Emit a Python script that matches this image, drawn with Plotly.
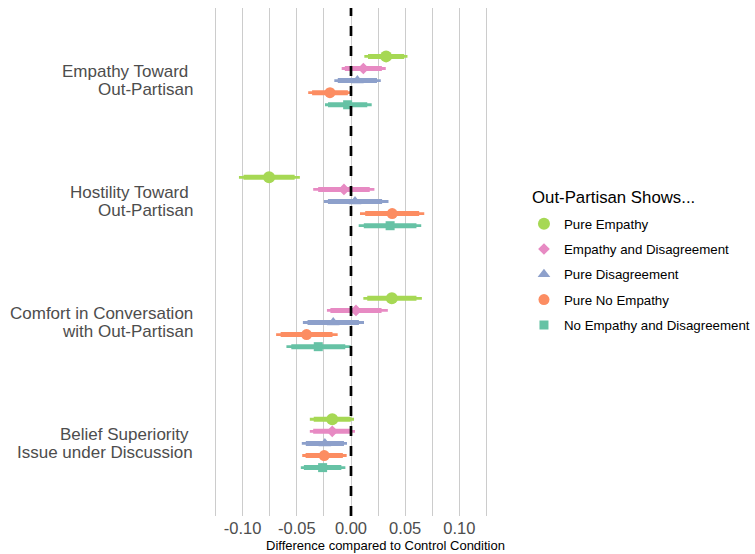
import plotly.graph_objects as go

# ---- data ----
OUTCOME_LINE1 = ["Empathy Toward\u00a0", "Hostility Toward\u00a0",
                 "Comfort in Conversation", "Belief Superiority\u00a0"]
OUTCOME_LINE2 = ["Out-Partisan", "Out-Partisan", "with Out-Partisan",
                 "Issue under Discussion"]
OUTCOME_POS = [4, 3, 2, 1]

LEGEND_TITLE = "Out-Partisan Shows..."
CONDITIONS = ["Pure Empathy", "Empathy and Disagreement", "Pure Disagreement",
              "Pure No Empathy", "No Empathy and Disagreement"]

pure_empathy_est = [0.0324, -0.0756, 0.0377, -0.0173]
pure_empathy_lo95 = [0.0123, -0.1034, 0.0114, -0.0380]
pure_empathy_hi95 = [0.0521, -0.0472, 0.0654, 0.0028]
pure_empathy_lo90 = [0.0157, -0.0992, 0.0150, -0.0344]
pure_empathy_hi90 = [0.0491, -0.0520, 0.0604, -0.0002]

emp_disagree_est = [0.0114, -0.0065, 0.0046, -0.0173]
emp_disagree_lo95 = [-0.0086, -0.0349, -0.0222, -0.0380]
emp_disagree_hi95 = [0.0321, 0.0216, 0.0340, 0.0037]
emp_disagree_lo90 = [-0.0057, -0.0303, -0.0190, -0.0349]
emp_disagree_hi90 = [0.0285, 0.0173, 0.0282, 0.0003]

pure_disagree_est = [0.0059, 0.0037, -0.0164, -0.0241]
pure_disagree_lo95 = [-0.0154, -0.0250, -0.0444, -0.0454]
pure_disagree_hi95 = [0.0275, 0.0346, 0.0120, -0.0037]
pure_disagree_lo90 = [-0.0122, -0.0213, -0.0401, -0.0417]
pure_disagree_hi90 = [0.0240, 0.0287, 0.0073, -0.0065]

pure_noemp_est = [-0.0194, 0.0380, -0.0410, -0.0247]
pure_noemp_lo95 = [-0.0395, 0.0083, -0.0691, -0.0450]
pure_noemp_hi95 = [-0.0003, 0.0676, -0.0123, -0.0040]
pure_noemp_lo90 = [-0.0359, 0.0131, -0.0649, -0.0419]
pure_noemp_hi90 = [-0.0029, 0.0629, -0.0171, -0.0075]

noemp_disagree_est = [-0.0031, 0.0361, -0.0302, -0.0262]
noemp_disagree_lo95 = [-0.0240, 0.0071, -0.0596, -0.0463]
noemp_disagree_hi95 = [0.0191, 0.0648, -0.0003, -0.0052]
noemp_disagree_lo90 = [-0.0212, 0.0118, -0.0551, -0.0435]
noemp_disagree_hi90 = [0.0150, 0.0604, -0.0053, -0.0089]

TICK_VALS = [-0.125, -0.10, -0.075, -0.05, -0.025, 0.0, 0.025, 0.05, 0.075, 0.10, 0.125]
TICK_TEXT = ["", "-0.10", "", "-0.05", "", "0.00", "", "0.05", "", "0.10", ""]
X_TITLE = "Difference compared to Control Condition"

# ---- styling ----
COLORS = ["#A6D854", "#E78AC3", "#8DA0CB", "#FC8D62", "#66C2A5"]
SYMBOLS = ["circle", "diamond", "triangle-up", "circle", "square"]
SIZES = [12, 9, 11, 11, 9]
OFFSETS = [0.2, 0.1, 0.0, -0.1, -0.2]

series = [
    (pure_empathy_est, pure_empathy_lo95, pure_empathy_hi95, pure_empathy_lo90, pure_empathy_hi90),
    (emp_disagree_est, emp_disagree_lo95, emp_disagree_hi95, emp_disagree_lo90, emp_disagree_hi90),
    (pure_disagree_est, pure_disagree_lo95, pure_disagree_hi95, pure_disagree_lo90, pure_disagree_hi90),
    (pure_noemp_est, pure_noemp_lo95, pure_noemp_hi95, pure_noemp_lo90, pure_noemp_hi90),
    (noemp_disagree_est, noemp_disagree_lo95, noemp_disagree_hi95, noemp_disagree_lo90, noemp_disagree_hi90),
]

FONT = "Liberation Sans, Arial, sans-serif"
fig = go.Figure()

for k, (est, lo95, hi95, lo90, hi90) in enumerate(series):
    ys = [p + OFFSETS[k] for p in OUTCOME_POS]
    thin_x, thin_y, thick_x, thick_y = [], [], [], []
    for i in range(len(est)):
        thin_x += [lo95[i], hi95[i], None]
        thin_y += [ys[i], ys[i], None]
        thick_x += [lo90[i], hi90[i], None]
        thick_y += [ys[i], ys[i], None]
    fig.add_trace(go.Scatter(x=thin_x, y=thin_y, mode="lines",
                             line=dict(color=COLORS[k], width=2.8),
                             showlegend=False, hoverinfo="skip"))
    fig.add_trace(go.Scatter(x=thick_x, y=thick_y, mode="lines",
                             line=dict(color=COLORS[k], width=5),
                             showlegend=False, hoverinfo="skip"))
    fig.add_trace(go.Scatter(x=est, y=ys, mode="markers", name=CONDITIONS[k],
                             legendgroup=CONDITIONS[k],
                             marker=dict(color=COLORS[k], symbol=SYMBOLS[k], size=SIZES[k],
                                         line=dict(width=0))))

fig.add_shape(type="line", x0=0, x1=0, xref="x", y0=0, y1=1, yref="paper",
              line=dict(color="black", width=2.7, dash="10px,10px"), layer="above")

# category labels (two lines each, tighter line spacing than tick labels allow)
for pos, l1, l2 in zip(OUTCOME_POS, OUTCOME_LINE1, OUTCOME_LINE2):
    for txt, shift in ((l1, 9), (l2, -9)):
        fig.add_annotation(text=txt, xref="paper", yref="y", x=0, y=pos,
                           xshift=-7, yshift=shift, xanchor="right", yanchor="middle",
                           showarrow=False, font=dict(size=17, color="#4d4d4d", family=FONT))

fig.add_annotation(text=X_TITLE, xref="paper", yref="paper",
                   x=0.616, y=0, yshift=-29, xanchor="center", yanchor="middle",
                   showarrow=False, font=dict(size=13, color="black", family=FONT))

fig.add_annotation(text=LEGEND_TITLE, xref="paper", yref="paper",
                   x=1.0, y=1.0, xshift=30, yshift=-189, xanchor="left", yanchor="middle",
                   showarrow=False, font=dict(size=16.8, color="black", family=FONT))

fig.update_layout(
    width=755, height=554,
    margin=dict(l=202, r=255, t=8, b=38),
    paper_bgcolor="white", plot_bgcolor="white",
    font=dict(family=FONT),
    xaxis=dict(range=[-0.1375, 0.1375], tickvals=TICK_VALS, ticktext=TICK_TEXT,
               showgrid=True, gridcolor="#cccccc", gridwidth=1, zeroline=False,
               showline=False, ticks="", ticklen=0, automargin=False,
               tickfont=dict(size=16.5, color="#4d4d4d")),
    yaxis=dict(range=[0.4, 4.6], showticklabels=False,
               showgrid=False, zeroline=False, showline=False, ticks="",
               automargin=False),
    legend=dict(xref="container", yref="container", x=0.694, y=0.6235,
                xanchor="left", yanchor="top",
                font=dict(size=13.3, color="black"), tracegroupgap=5,
                bgcolor="rgba(0,0,0,0)"),
)

fig.write_html("out.html", config={"displayModeBar": False},
               post_script="document.body.style.margin='0px';")
